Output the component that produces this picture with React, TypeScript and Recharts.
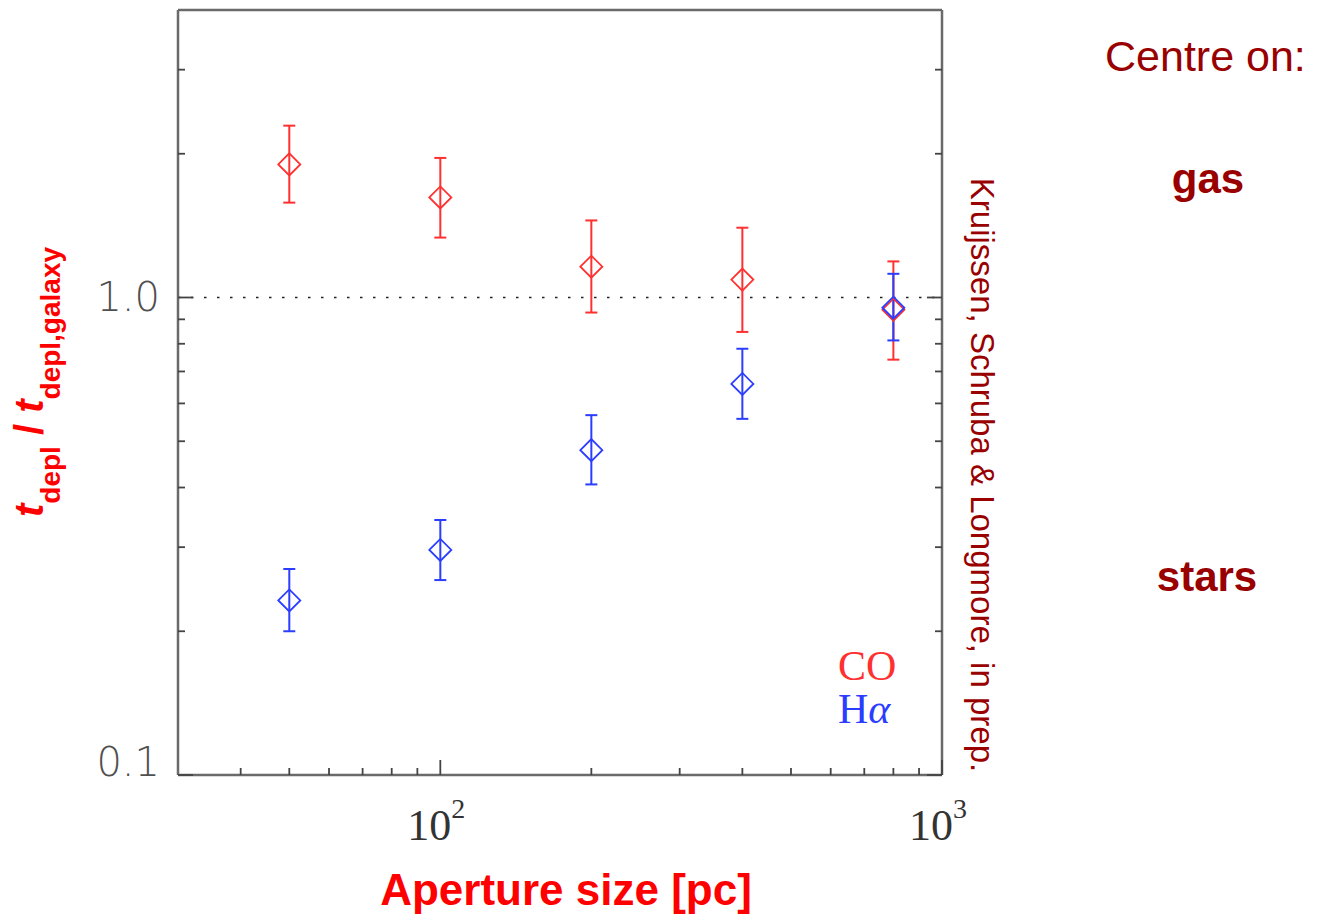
import React from 'react';
import { ScatterChart, Scatter, XAxis, YAxis, ErrorBar, ReferenceLine, Customized } from 'recharts';

// ---- data ----
const apertureSizes = [50, 100, 200, 400, 800];
const coValues = [1.9, 1.62, 1.16, 1.09, 0.943];
const coLower = [1.58, 1.335, 0.93, 0.847, 0.741];
const coUpper = [2.29, 1.96, 1.45, 1.4, 1.19];
const haValues = [0.232, 0.296, 0.479, 0.659, 0.952];
const haLower = [0.2, 0.256, 0.406, 0.557, 0.813];
const haUpper = [0.27, 0.342, 0.567, 0.781, 1.121];

const xMajorTicks = [100, 1000];
const xMinorTicks = [40, 50, 60, 70, 80, 90, 200, 300, 400, 500, 600, 700, 800, 900];
const xTickExponents: Record<number, string> = { 100: '2', 1000: '3' };
const yMajorTicks = [0.1, 1];
const yMinorTicks = [0.2, 0.3, 0.4, 0.5, 0.6, 0.7, 0.8, 0.9, 2, 3];
const yTickLabels: Record<number, string> = { 0.1: '0.1', 1: '1.0' };

const legendLabels = ['CO', 'H'];
const sideLabels = ['Centre on:', 'gas', 'stars'];
const creditText = 'Kruijssen, Schruba & Longmore, in prep.';

const coData = apertureSizes.map((x, i) => ({ x, y: coValues[i], err: [coValues[i] - coLower[i], coUpper[i] - coValues[i]] }));
const haData = apertureSizes.map((x, i) => ({ x, y: haValues[i], err: [haValues[i] - haLower[i], haUpper[i] - haValues[i]] }));

const xTicks = [...xMinorTicks, ...xMajorTicks].sort((a, b) => a - b);
const yTicks = [...yMinorTicks, ...yMajorTicks].sort((a, b) => a - b);

const RED = '#ff3030';
const BLUE = '#2b3dff';
const AXIS = '#6a6a6a';
const TICK = '#444444';
const DARKRED = '#990000';
const SANS = "'Liberation Sans', Arial, sans-serif";
const SERIF = "'Liberation Serif', 'Times New Roman', serif";

const MAJOR_LEN = 15;
const MINOR_LEN = 7;

const BottomTick = (props: any) => {
  const { x, y, payload } = props;
  const v = payload.value;
  const major = xMajorTicks.includes(v);
  return (
    <g>
      <line x1={x} x2={x} y1={y} y2={y - (major ? MAJOR_LEN : MINOR_LEN)} stroke={TICK} strokeWidth={1.8} />
      {major && (
        <text x={x - 4} y={y + 65} textAnchor="middle" fontFamily={SERIF} fontSize={44} fill="#333">
          10<tspan fontSize={28} dy={-22}>{xTickExponents[v]}</tspan>
        </text>
      )}
    </g>
  );
};

const TopTick = (props: any) => {
  const { x, y, payload } = props;
  const major = xMajorTicks.includes(payload.value);
  return <line x1={x} x2={x} y1={y} y2={y + (major ? MAJOR_LEN : MINOR_LEN)} stroke={TICK} strokeWidth={1.8} />;
};

const LeftTick = (props: any) => {
  const { x, y, payload } = props;
  const v = payload.value;
  const major = yMajorTicks.includes(v);
  const label = yTickLabels[v];
  return (
    <g>
      <line x1={x} x2={x + (major ? MAJOR_LEN : MINOR_LEN)} y1={y} y2={y} stroke={TICK} strokeWidth={1.8} />
      {label && (
        <text x={x - 18} y={v === 1 ? y + 14 : y + 1} textAnchor="end" fontFamily="'DejaVu Sans', sans-serif" fontWeight={300} fontSize={40} fill="#505050">
          {label}
        </text>
      )}
    </g>
  );
};

const RightTick = (props: any) => {
  const { x, y, payload } = props;
  const major = yMajorTicks.includes(payload.value);
  return <line x1={x} x2={x - (major ? MAJOR_LEN : MINOR_LEN)} y1={y} y2={y} stroke={TICK} strokeWidth={1.8} />;
};

const makeDiamond = (color: string) => (props: any) => {
  const { cx, cy } = props;
  const r = 11;
  return (
    <polygon
      points={`${cx - r},${cy} ${cx},${cy - r} ${cx + r},${cy} ${cx},${cy + r}`}
      fill="none"
      stroke={color}
      strokeWidth={1.8}
    />
  );
};

const Annotations = () => (
  <g>
    <text
      transform="translate(43, 382) rotate(-90)"
      textAnchor="middle"
      fill="#ff0000"
      fontFamily={SANS}
      fontWeight="bold"
    >
      <tspan fontSize={40} fontStyle="italic">t</tspan>
      <tspan fontSize={28} dy={17}>depl</tspan>
      <tspan fontSize={40} dy={-17}>{'\u00a0/\u00a0'}</tspan>
      <tspan fontSize={40} fontStyle="italic">t</tspan>
      <tspan fontSize={28} dy={17}>depl,galaxy</tspan>
    </text>
    <text x={566} y={905} textAnchor="middle" fill="#ff0000" fontFamily={SANS} fontWeight="bold" fontSize={44}>
      Aperture size [pc]
    </text>
    <text transform="translate(971, 475) rotate(90)" textAnchor="middle" fill={DARKRED} fontFamily={SANS} fontSize={33}>
      {creditText}
    </text>
    <text x={838} y={680} fill={RED} fontFamily={SERIF} fontSize={42}>{legendLabels[0]}</text>
    <text x={838} y={723} fill={BLUE} fontFamily={SERIF} fontSize={42}>
      {legendLabels[1]}<tspan fontStyle="italic">α</tspan>
    </text>
    <text x={1105} y={71} fill={DARKRED} fontFamily={SANS} fontSize={43}>{sideLabels[0]}</text>
    <text x={1208} y={193} textAnchor="middle" fill={DARKRED} fontFamily={SANS} fontWeight="bold" fontSize={42}>{sideLabels[1]}</text>
    <text x={1207} y={591} textAnchor="middle" fill={DARKRED} fontFamily={SANS} fontWeight="bold" fontSize={42}>{sideLabels[2]}</text>
  </g>
);

const axisLineStyle = { stroke: AXIS, strokeWidth: 2.5 };

export default function App() {
  return (
    <div style={{ position: 'absolute', left: 0, top: 0, width: 1318, height: 915, background: '#fff' }}>
      <ScatterChart width={1318} height={915} margin={{ top: 9, left: 177, right: 375, bottom: 139 }}>
        <XAxis
          xAxisId="b"
          dataKey="x"
          type="number"
          scale="log"
          domain={[30, 1000]}
          allowDataOverflow
          ticks={xTicks}
          interval={0}
          height={1}
          tickSize={0}
          tickMargin={0}
          tick={<BottomTick />}
          axisLine={axisLineStyle}
          tickLine={false}
        />
        <XAxis
          xAxisId="t"
          orientation="top"
          type="number"
          scale="log"
          domain={[30, 1000]}
          allowDataOverflow
          ticks={xTicks}
          interval={0}
          height={1}
          tickSize={0}
          tickMargin={0}
          tick={<TopTick />}
          axisLine={axisLineStyle}
          tickLine={false}
        />
        <YAxis
          yAxisId="l"
          dataKey="y"
          type="number"
          scale="log"
          domain={[0.1, 4]}
          allowDataOverflow
          ticks={yTicks}
          interval={0}
          width={1}
          tickSize={0}
          tickMargin={0}
          tick={<LeftTick />}
          axisLine={axisLineStyle}
          tickLine={false}
        />
        <YAxis
          yAxisId="r"
          orientation="right"
          type="number"
          scale="log"
          domain={[0.1, 4]}
          allowDataOverflow
          ticks={yTicks}
          interval={0}
          width={1}
          tickSize={0}
          tickMargin={0}
          tick={<RightTick />}
          axisLine={axisLineStyle}
          tickLine={false}
        />
        <ReferenceLine xAxisId="b" yAxisId="l" y={1} stroke="#222" strokeWidth={1.5} strokeDasharray="2.5 10.5" />
        <Scatter xAxisId="b" yAxisId="l" data={coData} shape={makeDiamond(RED)} isAnimationActive={false}>
          <ErrorBar dataKey="err" direction="y" width={6} stroke={RED} strokeWidth={2} isAnimationActive={false} />
        </Scatter>
        <Scatter xAxisId="b" yAxisId="l" data={haData} shape={makeDiamond(BLUE)} isAnimationActive={false}>
          <ErrorBar dataKey="err" direction="y" width={6} stroke={BLUE} strokeWidth={2} isAnimationActive={false} />
        </Scatter>
        <Customized component={Annotations} />
      </ScatterChart>
    </div>
  );
}
